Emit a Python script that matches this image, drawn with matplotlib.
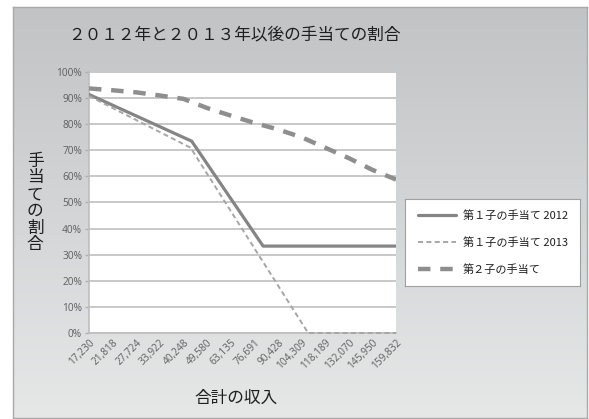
import numpy as np
import matplotlib
matplotlib.use("Agg")
import matplotlib.pyplot as plt

plt.rcParams['font.family'] = ['Noto Sans CJK JP', 'DejaVu Sans']

# Total household income (category labels on the x axis)
income_labels = ["17,230", "21,818", "27,724", "33,922", "40,248", "49,580", "63,135",
                 "76,691", "90,428", "104,309", "118,189", "132,070", "145,950", "159,832"]

# First child, 2012 rules: income breakpoints and share of the benefit (%)
child1_2012_income = [17230, 43500, 81800, 159832]
child1_2012_share = [91.4, 73.5, 33.3, 33.3]

# First child, 2013 onward
child1_2013_income = [17230, 43050, 108200, 159832]
child1_2013_share = [90.8, 71.0, 0.0, 0.0]

# Second child, one value per income category
child2_share = [93.7, 93.0, 92.2, 91.0, 89.7, 86.2, 83.3, 80.5, 78.0, 75.0, 71.0, 67.0, 62.5, 58.8]

title = "２０１２年と２０１３年以後の手当ての割合"
legend_labels = ["第１子の手当て 2012", "第１子の手当て 2013", "第２子の手当て"]
x_title = "合計の収入"
y_title = "手当ての割合"

W, H = 589, 419
fig = plt.figure(figsize=(W / 100, H / 100), dpi=100)
fig.patch.set_facecolor("white")

# Chart area with a vertical grey gradient
bg = fig.add_axes([13 / W, 1 - 418 / H, (587 - 13) / W, (418 - 7) / H])
top_c = np.array([0xc2, 0xc3, 0xc5]) / 255
bot_c = np.array([0xe6, 0xe7, 0xe7]) / 255
t = np.linspace(0, 1, 256)[:, None]
grad = (top_c[None, :] * (1 - t) + bot_c[None, :] * t)[:, None, :]
bg.imshow(grad, aspect="auto", extent=[0, 1, 0, 1], interpolation="bilinear")
bg.set_xticks([])
bg.set_yticks([])
for side in bg.spines.values():
    side.set_color("#a8a8a8")
    side.set_linewidth(1.0)

# Plot area
left, right, top, bottom = 89, 396, 72, 333
ax = fig.add_axes([left / W, 1 - bottom / H, (right - left) / W, (bottom - top) / H])
ax.set_facecolor("white")

label_income = np.array([int(s.replace(",", "")) for s in income_labels])
cat_idx = np.arange(len(income_labels))


def to_pos(values):
    return np.interp(values, label_income, cat_idx)


ax.yaxis.grid(True, color="#c4c4c4", linewidth=1.3)
ax.set_axisbelow(True)

l1, = ax.plot(to_pos(child1_2012_income), child1_2012_share, color="#858585",
              linewidth=2.3, solid_joinstyle="round", solid_capstyle="round", zorder=3)
l2, = ax.plot(to_pos(child1_2013_income), child1_2013_share, color="#a6a6a6",
              linewidth=1.4, dashes=(2.6, 1.7), zorder=4, clip_on=False)
l3, = ax.plot(cat_idx, child2_share, color="#8e8e8e", linewidth=3.2,
              dashes=(2.8, 2.2), zorder=3)

ax.set_xlim(0, len(income_labels) - 1)
ax.set_ylim(0, 100)
ax.set_yticks(np.arange(0, 101, 10))
ax.set_yticklabels([f"{v}%" for v in range(0, 101, 10)])
ax.set_xticks(cat_idx)
ax.set_xticklabels(income_labels, rotation=45, ha="right", rotation_mode="anchor")
ax.tick_params(axis="both", labelsize=7.3, labelcolor="#5e5e5e", color="#b0b0b0",
               length=3, width=1)
ax.tick_params(axis="x", pad=3, length=0)
ax.tick_params(axis="y", length=3, pad=2)
for lab in ax.get_xticklabels() + ax.get_yticklabels():
    lab.set_family(['Open Sans', 'DejaVu Sans'])
for name in ["top", "right"]:
    ax.spines[name].set_visible(False)
for name in ["left", "bottom"]:
    ax.spines[name].set_color("#bdbdbd")
    ax.spines[name].set_linewidth(1.2)

fig.text(68 / W, 1 - 35 / H, title, fontsize=12, color="#1e1e1e", ha="left", va="center")
fig.text(236 / W, 1 - 398 / H, x_title, fontsize=12, color="#1e1e1e", ha="center", va="center")
fig.text(35 / W, 1 - 203 / H, "\n".join(y_title), fontsize=12, color="#1e1e1e",
         ha="center", va="center", linespacing=0.98)

# Legend drawn inside its own white box
leg_ax = fig.add_axes([405 / W, 1 - 286 / H, (580 - 405) / W, (286 - 199) / H])
leg_ax.set_xticks([])
leg_ax.set_yticks([])
leg_ax.set_facecolor("white")
for side in leg_ax.spines.values():
    side.set_color("#a0a0a0")
    side.set_linewidth(0.8)
leg = leg_ax.legend([l1, l2, l3], legend_labels, loc="center left", frameon=False,
                    fontsize=8, handlelength=3.4, handletextpad=0.6,
                    labelspacing=1.45, borderaxespad=0, bbox_to_anchor=(0.05, 0.5))
for txt in leg.get_texts():
    txt.set_color("#1e1e1e")

fig.savefig("out.png", dpi=100)
